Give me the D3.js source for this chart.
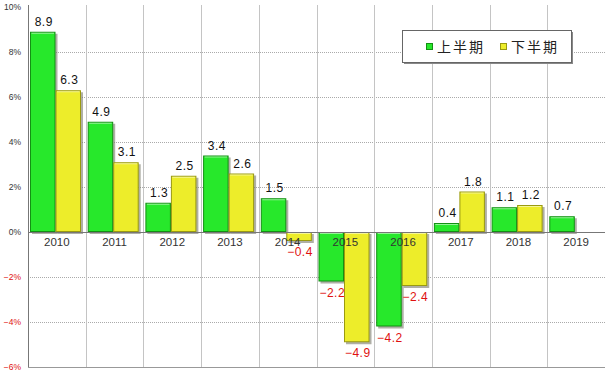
<!DOCTYPE html>
<html>
<head>
<meta charset="utf-8">
<script src="https://cdn.jsdelivr.net/npm/d3@7"></script>
<style>
body { margin: 0; background: #fff; }
svg { display: block; font-family: "Liberation Sans", Arial, sans-serif; }
.grid-h line { stroke: #aaa; stroke-dasharray: 1,1; }
.grid-v line { stroke: #c4c4c4; }
</style>
</head>
<body>
<div class="chart"></div>
<script>
const years = ['2010','2011','2012','2013','2014','2015','2016','2017','2018','2019']
const firstHalf = [8.9, 4.9, 1.3, 3.4, 1.5, -2.2, -4.2, 0.4, 1.1, 0.7]
const secondHalf = [6.3, 3.1, 2.5, 2.6, -0.4, -4.9, -2.4, 1.8, 1.2, null]
const seriesNames = ['上半期', '下半期']
const yTicks = [-6, -4, -2, 0, 2, 4, 6, 8, 10]

const width = 614, height = 379
const colors = ['#27e82b', '#eded2a']
const edges = ['#139013', '#9a9a10']

const svg = d3.select('.chart').append('svg')
  .attr('width', width).attr('height', height)

const x = d3.scaleBand().domain(years).range([28, 605])
const xi = d3.scaleBand().domain([0, 1]).range([2, 53])
const y = d3.scaleLinear().domain([-6, 10]).range([367, 7])

// horizontal dotted grid
svg.append('g').attr('class', 'grid-h')
  .selectAll('line').data(yTicks.filter(d => d !== 0 && d !== -6 && d !== 10)).join('line')
  .attr('x1', 28).attr('x2', 605)
  .attr('y1', d => y(d) + 0.5).attr('y2', d => y(d) + 0.5)

// vertical grid between years
svg.append('g').attr('class', 'grid-v')
  .selectAll('line').data(years.slice(1)).join('line')
  .attr('x1', d => Math.round(x(d)) + 0.5).attr('x2', d => Math.round(x(d)) + 0.5)
  .attr('y1', 5).attr('y2', 367)

// y axis labels
svg.append('g').selectAll('text').data(yTicks).join('text')
  .attr('x', 21).attr('y', d => y(d) + 3)
  .attr('text-anchor', 'end')
  .attr('font-size', 8.5)
  .attr('fill', d => d < 0 ? '#e01010' : '#333')
  .text(d => (d < 0 ? '\u2212' + (-d) : d) + '%')

const bars = []
years.forEach((yr, i) => {
  [firstHalf[i], secondHalf[i]].forEach((v, s) => {
    if (v !== null) bars.push({ year: yr, s: s, v: v })
  })
})

const bx = d => x(d.year) + xi(d.s)
const bw = xi.bandwidth()

const g = svg.append('g')
// shadow
g.selectAll('rect.shadow').data(bars).join('rect')
  .attr('class', 'shadow')
  .attr('x', d => bx(d) + 2)
  .attr('y', d => Math.min(y(d.v), y(0)) + 2)
  .attr('width', bw)
  .attr('height', d => Math.abs(y(d.v) - y(0)))
  .attr('fill', '#7a7a6a').attr('opacity', 0.6)

g.selectAll('rect.bar').data(bars).join('rect')
  .attr('class', 'bar')
  .attr('x', d => bx(d) + 0.5)
  .attr('y', d => Math.min(y(d.v), y(0)) + 0.5)
  .attr('width', bw - 1)
  .attr('height', d => Math.max(0, Math.abs(y(d.v) - y(0)) - 1))
  .attr('fill', d => colors[d.s])
  .attr('stroke', d => edges[d.s])
  .attr('stroke-width', 1)

// top highlight
g.selectAll('line.hl').data(bars).join('line')
  .attr('x1', d => bx(d) + 1.5).attr('x2', d => bx(d) + bw - 1.5)
  .attr('y1', d => Math.min(y(d.v), y(0)) + 1.5)
  .attr('y2', d => Math.min(y(d.v), y(0)) + 1.5)
  .attr('stroke', '#ffffff').attr('stroke-opacity', 0.5)

// axis lines
svg.append('line').attr('x1', 28).attr('x2', 605)
  .attr('y1', y(0) + 0.5).attr('y2', y(0) + 0.5).attr('stroke', '#777')
svg.append('line').attr('x1', 28).attr('x2', 605)
  .attr('y1', y(-6) + 0.5).attr('y2', y(-6) + 0.5).attr('stroke', '#999')
svg.append('line').attr('x1', 28.5).attr('x2', 28.5)
  .attr('y1', 5).attr('y2', 367).attr('stroke', '#777')

// year labels
svg.append('g').selectAll('text').data(years).join('text')
  .attr('x', d => x(d) + x.bandwidth() / 2)
  .attr('y', y(0) + 14)
  .attr('text-anchor', 'middle')
  .attr('font-size', 11.5)
  .attr('fill', '#333')
  .text(d => d)

// value labels
svg.append('g').selectAll('text').data(bars).join('text')
  .attr('x', d => bx(d) + bw / 2 + 1)
  .attr('y', d => d.v >= 0 ? y(d.v) - 6 : y(d.v) + 15)
  .attr('text-anchor', 'middle')
  .attr('font-size', 12)
  .attr('letter-spacing', 0.5)
  .attr('fill', d => d.v < 0 ? '#e01010' : '#111')
  .text(d => d.v < 0 ? '\u2212' + (-d.v).toFixed(1) : d.v.toFixed(1))

// legend
const lg = svg.append('g').attr('transform', 'translate(402,30)')
lg.append('rect').attr('x', 2).attr('y', 2).attr('width', 169).attr('height', 32)
  .attr('fill', '#888')
lg.append('rect').attr('x', 0.5).attr('y', 0.5).attr('width', 169).attr('height', 32)
  .attr('fill', '#fff').attr('stroke', '#666')
seriesNames.forEach((n, i) => {
  const ox = 24 + i * 74
  lg.append('rect').attr('x', ox + 0.5).attr('y', 13.5).attr('width', 6).attr('height', 6)
    .attr('fill', colors[i]).attr('stroke', edges[i])
  lg.append('text').attr('x', ox + 11).attr('y', 22)
    .attr('font-family', '"Noto Sans CJK JP", sans-serif')
    .attr('font-size', 14).attr('letter-spacing', 2).attr('fill', '#222')
    .text(n)
})
</script>
</body>
</html>
